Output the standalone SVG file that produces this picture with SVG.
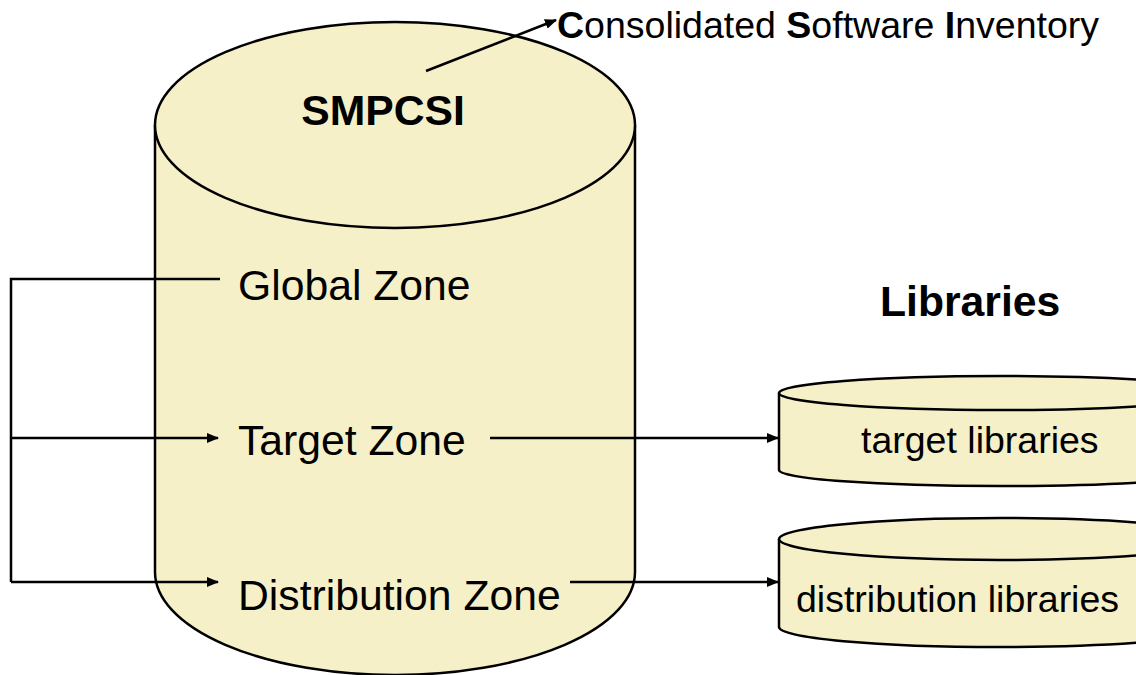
<svg xmlns="http://www.w3.org/2000/svg" width="1136" height="675" viewBox="0 0 1136 675">
<style>
.cyl{fill:#F6F0C8;stroke:#000;stroke-width:2.5}
.ln{fill:none;stroke:#000;stroke-width:2.5}
text{font-family:"Liberation Sans",Arial,sans-serif;fill:#000}
.z{font-size:42.7px}
.s{font-size:37.5px}
.b{font-weight:bold}
</style>
<defs>
<marker id="ah" markerWidth="12" markerHeight="10" refX="11" refY="5" orient="auto" markerUnits="userSpaceOnUse">
<path d="M0,0 L12,5 L0,10 Z" fill="#000"/>
</marker>
</defs>
<rect width="1136" height="675" fill="#fff"/>
<g id="smpcsi">
<path class="cyl" d="M155,125 L155,572 A240,103 0 0 0 635,572 L635,125"/>
<ellipse class="cyl" cx="395" cy="125" rx="240" ry="103"/>
<text class="z b" x="383" y="125" text-anchor="middle">SMPCSI</text>
</g>
<g id="global-zone"><text class="z" x="238" y="300">Global Zone</text></g>
<g id="target-zone"><text class="z" x="238" y="455">Target Zone</text></g>
<g id="distribution-zone"><text class="z" x="238" y="610">Distribution Zone</text></g>
<g id="csi-label"><text class="s" x="557" y="38"><tspan class="b">C</tspan>onsolidated <tspan class="b">S</tspan>oftware <tspan class="b">I</tspan>nventory</text></g>
<g id="libraries-label"><text class="z b" x="880" y="316">Libraries</text></g>
<g id="target-libraries">
<path class="cyl" d="M779,393 L779,470 A221,16 0 0 0 1221,470 L1221,393"/>
<ellipse class="cyl" cx="1000" cy="393" rx="221" ry="17"/>
<text class="s" x="861" y="453">target libraries</text>
</g>
<g id="distribution-libraries">
<path class="cyl" d="M779,539 L779,627 A221,20 0 0 0 1221,627 L1221,539"/>
<ellipse class="cyl" cx="1000" cy="539" rx="221" ry="21"/>
<text class="s" x="796" y="612">distribution libraries</text>
</g>
<g id="connectors">
<path class="ln" d="M220,279 L11,279 L11,582"/>
<path class="ln" d="M11,438 L218,438" marker-end="url(#ah)"/>
<path class="ln" d="M11,582 L218,582" marker-end="url(#ah)"/>
<path class="ln" d="M490,438 L778,438" marker-end="url(#ah)"/>
<path class="ln" d="M570,582 L778,582" marker-end="url(#ah)"/>
<path class="ln" d="M426,71 L556,20" marker-end="url(#ah)"/>
</g>
</svg>
